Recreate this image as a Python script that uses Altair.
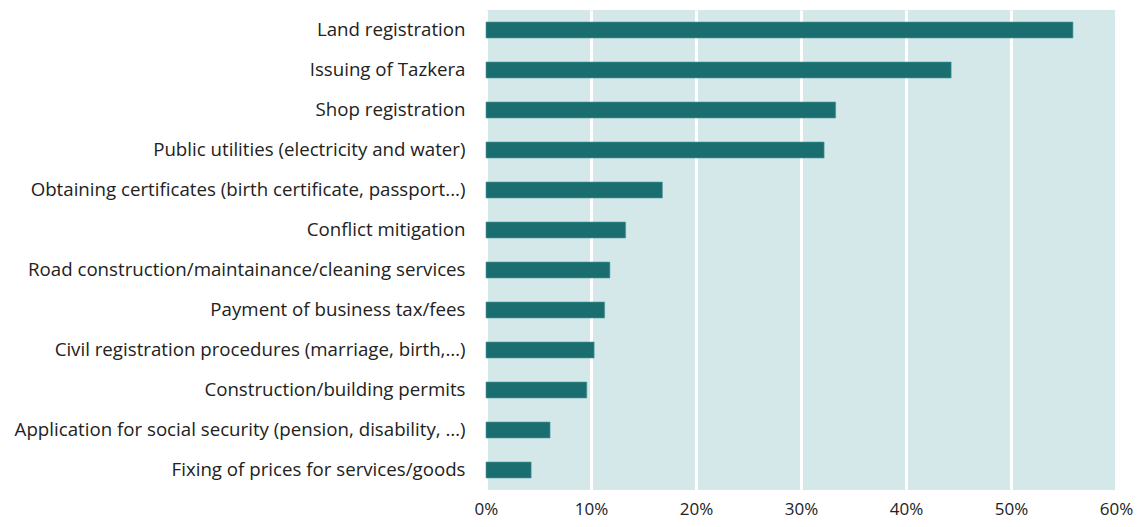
import altair as alt
import pandas as pd

categories = [
    "Land registration",
    "Issuing of Tazkera",
    "Shop registration",
    "Public utilities (electricity and water)",
    "Obtaining certificates (birth certificate, passport...)",
    "Conflict mitigation",
    "Road construction/maintainance/cleaning services",
    "Payment of business tax/fees",
    "Civil registration procedures (marriage, birth,…)",
    "Construction/building permits",
    "Application for social security (pension, disability, …)",
    "Fixing of prices for services/goods",
]
values = [0.559, 0.443, 0.333, 0.322, 0.168, 0.133, 0.118, 0.113, 0.103, 0.096, 0.061, 0.043]

df = pd.DataFrame({"service": categories, "share": values})

chart = alt.Chart(df).mark_bar(
    color="#1a6e70", stroke="#4f9a9c", strokeWidth=0.6
).encode(
    x=alt.X("share:Q",
            scale=alt.Scale(domain=[0, 0.6], nice=False),
            axis=alt.Axis(format="%", values=[0, 0.1, 0.2, 0.3, 0.4, 0.5, 0.6],
                          title=None, domain=False, ticks=False, labelFlush=False,
                          grid=True, gridColor="white", gridWidth=3, gridOpacity=1,
                          labelFont="Open Sans", labelFontSize=17, labelColor="#222",
                          labelPadding=11)),
    y=alt.Y("service:N", sort=categories,
            scale=alt.Scale(paddingInner=0.6, paddingOuter=0.3),
            axis=alt.Axis(title=None, domain=False, ticks=False, grid=False,
                          labelFont="Open Sans", labelFontSize=18.7, labelColor="#222",
                          labelPadding=21, labelLimit=600)),
).properties(
    width=630, height=480,
    autosize=alt.AutoSizeParams(type="none"),
    padding={"left": 478, "top": 2, "right": 18, "bottom": 29},
).configure(
    background="white"
).configure_view(
    fill="#d4e8ea", stroke=None
)

chart.save("out.html", embed_options={"renderer": "svg", "actions": False})
